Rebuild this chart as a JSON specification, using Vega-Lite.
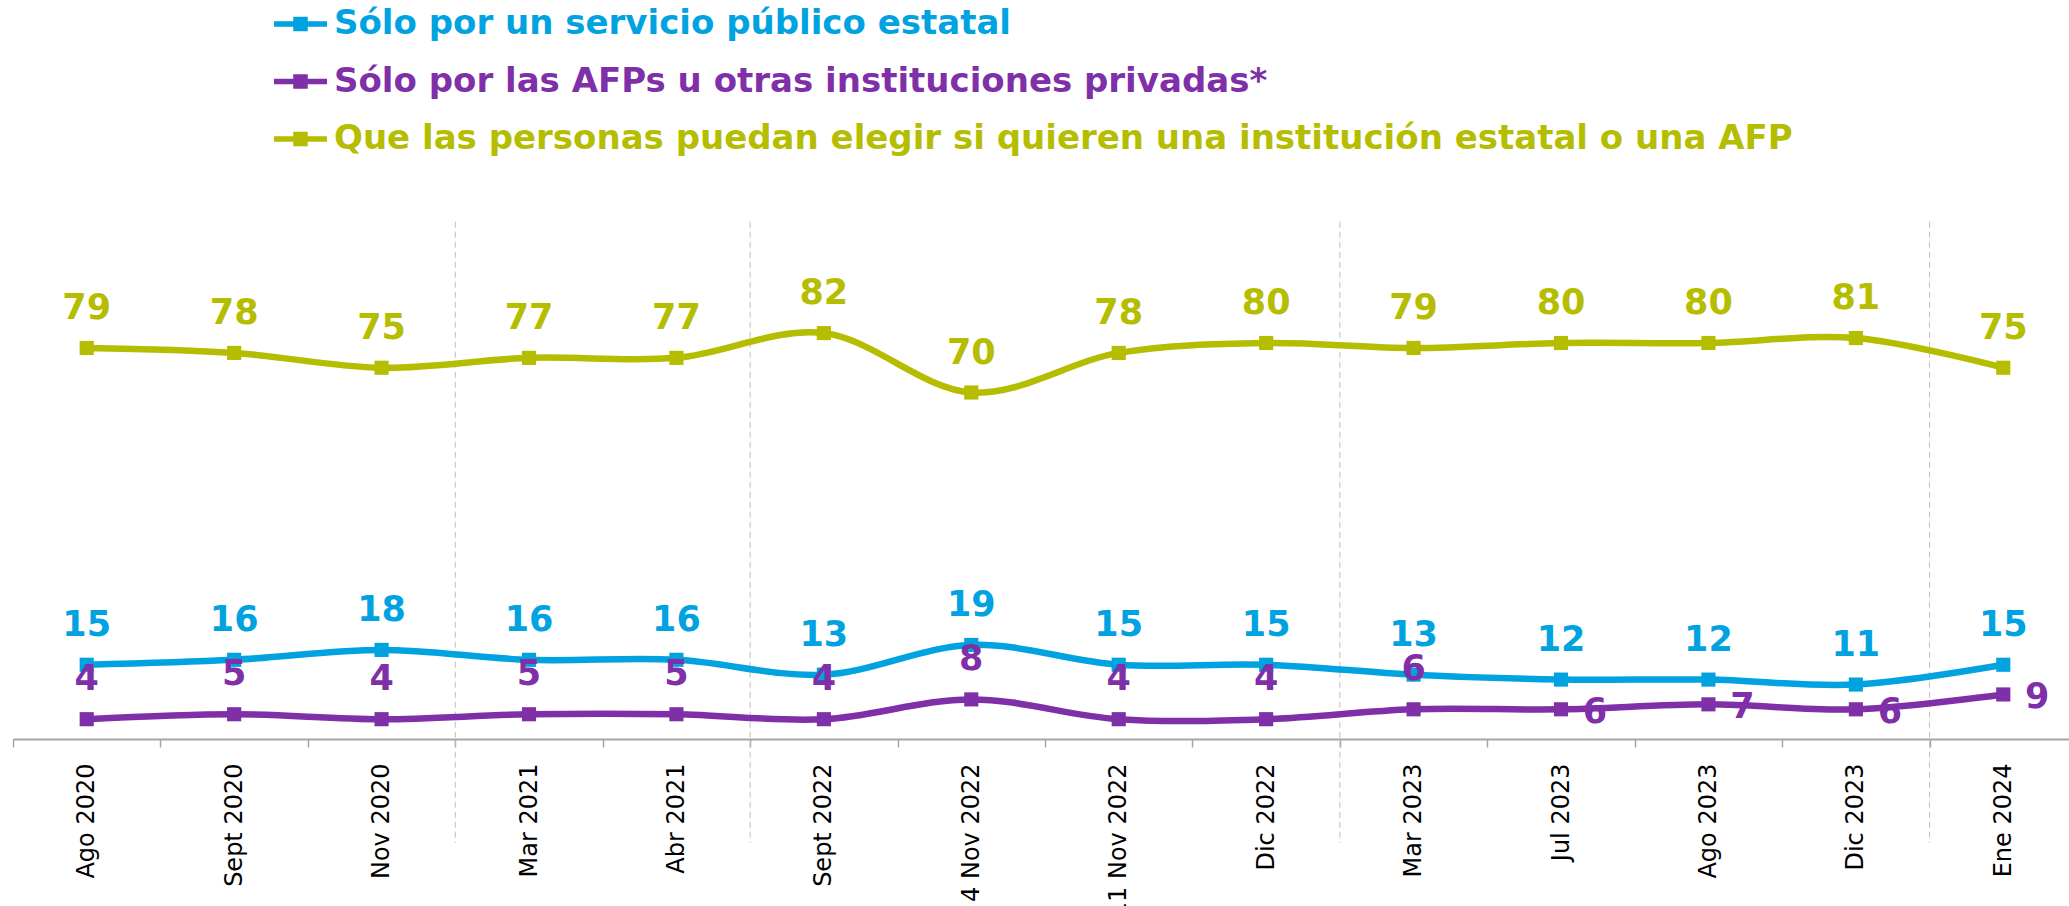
{
  "$schema": "https://vega.github.io/schema/vega-lite/v6.json",
  "autosize": {"type": "none"},
  "width": 2056,
  "height": 495,
  "padding": {"left": 13, "top": 244, "right": 0, "bottom": 167},
  "background": "white",
  "config": {"view": {"stroke": null}, "font": "DejaVu Sans"},
  "datasets": {
    "main": [
      {"periodo": "Ago 2020", "serie": "Sólo por un servicio público estatal", "valor": 15},
      {"periodo": "Sept 2020", "serie": "Sólo por un servicio público estatal", "valor": 16},
      {"periodo": "Nov 2020", "serie": "Sólo por un servicio público estatal", "valor": 18},
      {"periodo": "Mar 2021", "serie": "Sólo por un servicio público estatal", "valor": 16},
      {"periodo": "Abr 2021", "serie": "Sólo por un servicio público estatal", "valor": 16},
      {"periodo": "Sept 2022", "serie": "Sólo por un servicio público estatal", "valor": 13},
      {"periodo": "4 Nov 2022", "serie": "Sólo por un servicio público estatal", "valor": 19},
      {"periodo": "11 Nov 2022", "serie": "Sólo por un servicio público estatal", "valor": 15},
      {"periodo": "Dic 2022", "serie": "Sólo por un servicio público estatal", "valor": 15},
      {"periodo": "Mar 2023", "serie": "Sólo por un servicio público estatal", "valor": 13},
      {"periodo": "Jul 2023", "serie": "Sólo por un servicio público estatal", "valor": 12},
      {"periodo": "Ago 2023", "serie": "Sólo por un servicio público estatal", "valor": 12},
      {"periodo": "Dic 2023", "serie": "Sólo por un servicio público estatal", "valor": 11},
      {"periodo": "Ene 2024", "serie": "Sólo por un servicio público estatal", "valor": 15},
      {"periodo": "Ago 2020", "serie": "Sólo por las AFPs u otras instituciones privadas*", "valor": 4},
      {"periodo": "Sept 2020", "serie": "Sólo por las AFPs u otras instituciones privadas*", "valor": 5},
      {"periodo": "Nov 2020", "serie": "Sólo por las AFPs u otras instituciones privadas*", "valor": 4},
      {"periodo": "Mar 2021", "serie": "Sólo por las AFPs u otras instituciones privadas*", "valor": 5},
      {"periodo": "Abr 2021", "serie": "Sólo por las AFPs u otras instituciones privadas*", "valor": 5},
      {"periodo": "Sept 2022", "serie": "Sólo por las AFPs u otras instituciones privadas*", "valor": 4},
      {"periodo": "4 Nov 2022", "serie": "Sólo por las AFPs u otras instituciones privadas*", "valor": 8},
      {"periodo": "11 Nov 2022", "serie": "Sólo por las AFPs u otras instituciones privadas*", "valor": 4},
      {"periodo": "Dic 2022", "serie": "Sólo por las AFPs u otras instituciones privadas*", "valor": 4},
      {"periodo": "Mar 2023", "serie": "Sólo por las AFPs u otras instituciones privadas*", "valor": 6},
      {"periodo": "Jul 2023", "serie": "Sólo por las AFPs u otras instituciones privadas*", "valor": 6},
      {"periodo": "Ago 2023", "serie": "Sólo por las AFPs u otras instituciones privadas*", "valor": 7},
      {"periodo": "Dic 2023", "serie": "Sólo por las AFPs u otras instituciones privadas*", "valor": 6},
      {"periodo": "Ene 2024", "serie": "Sólo por las AFPs u otras instituciones privadas*", "valor": 9},
      {"periodo": "Ago 2020", "serie": "Que las personas puedan elegir si quieren una institución estatal o una AFP", "valor": 79},
      {"periodo": "Sept 2020", "serie": "Que las personas puedan elegir si quieren una institución estatal o una AFP", "valor": 78},
      {"periodo": "Nov 2020", "serie": "Que las personas puedan elegir si quieren una institución estatal o una AFP", "valor": 75},
      {"periodo": "Mar 2021", "serie": "Que las personas puedan elegir si quieren una institución estatal o una AFP", "valor": 77},
      {"periodo": "Abr 2021", "serie": "Que las personas puedan elegir si quieren una institución estatal o una AFP", "valor": 77},
      {"periodo": "Sept 2022", "serie": "Que las personas puedan elegir si quieren una institución estatal o una AFP", "valor": 82},
      {"periodo": "4 Nov 2022", "serie": "Que las personas puedan elegir si quieren una institución estatal o una AFP", "valor": 70},
      {"periodo": "11 Nov 2022", "serie": "Que las personas puedan elegir si quieren una institución estatal o una AFP", "valor": 78},
      {"periodo": "Dic 2022", "serie": "Que las personas puedan elegir si quieren una institución estatal o una AFP", "valor": 80},
      {"periodo": "Mar 2023", "serie": "Que las personas puedan elegir si quieren una institución estatal o una AFP", "valor": 79},
      {"periodo": "Jul 2023", "serie": "Que las personas puedan elegir si quieren una institución estatal o una AFP", "valor": 80},
      {"periodo": "Ago 2023", "serie": "Que las personas puedan elegir si quieren una institución estatal o una AFP", "valor": 80},
      {"periodo": "Dic 2023", "serie": "Que las personas puedan elegir si quieren una institución estatal o una AFP", "valor": 81},
      {"periodo": "Ene 2024", "serie": "Que las personas puedan elegir si quieren una institución estatal o una AFP", "valor": 75}
    ],
    "sep": [
      {"periodo": "Mar 2021"},
      {"periodo": "Sept 2022"},
      {"periodo": "Mar 2023"},
      {"periodo": "Ene 2024"}
    ]
  },
  "encoding": {
    "x": {
      "field": "periodo",
      "type": "nominal",
      "sort": ["Ago 2020", "Sept 2020", "Nov 2020", "Mar 2021", "Abr 2021", "Sept 2022", "4 Nov 2022", "11 Nov 2022", "Dic 2022", "Mar 2023", "Jul 2023", "Ago 2023", "Dic 2023", "Ene 2024"],
      "scale": {"type": "band", "range": [0, 2064], "paddingInner": 0, "paddingOuter": 0},
      "axis": {
        "title": null,
        "labelAngle": -90,
        "labelAlign": "right",
        "labelBaseline": "middle",
        "labelFont": "DejaVu Sans",
        "labelFontSize": 24,
        "labelColor": "#000000",
        "labelPadding": 16,
        "labelLimit": 400,
        "labelOverlap": false,
        "tickBand": "extent",
        "tickSize": 8,
        "tickWidth": 1.5,
        "tickColor": "#A6A6A6",
        "domainColor": "#A6A6A6",
        "domainWidth": 2,
        "grid": false
      }
    },
    "color": {
      "field": "serie",
      "type": "nominal",
      "scale": {
        "domain": ["Sólo por un servicio público estatal", "Sólo por las AFPs u otras instituciones privadas*", "Que las personas puedan elegir si quieren una institución estatal o una AFP"],
        "range": ["#00A3E0", "#7F30A8", "#B5BD00"]
      },
      "legend": {
        "orient": "none",
        "legendX": 258,
        "legendY": -249.5,
        "title": null,
        "direction": "vertical",
        "padding": 0,
        "rowPadding": 10.5,
        "labelFont": "DejaVu Sans",
        "labelFontSize": 34,
        "labelFontWeight": "bold",
        "labelLimit": 3000,
        "labelOffset": 4,
        "symbolType": "M-1,0H1M-0.17,-0.17H0.17V0.17H-0.17Z",
        "symbolSize": 2809,
        "symbolStrokeWidth": 5.5,
        "encode": {
          "labels": {"update": {"fill": {"scale": "color", "field": "value"}}},
          "symbols": {
            "update": {
              "fill": {"scale": "color", "field": "value"},
              "stroke": {"scale": "color", "field": "value"},
              "size": {"value": 2809},
              "shape": {"value": "M-1,0H1M-0.17,-0.17H0.17V0.17H-0.17Z"},
              "strokeWidth": {"value": 5.5},
              "opacity": {"value": 1}
            }
          }
        }
      }
    }
  },
  "layer": [
    {
      "data": {"name": "sep"},
      "mark": {"type": "rule", "strokeWidth": 1, "strokeDash": [6, 4]},
      "encoding": {
        "x": {
          "field": "periodo",
          "type": "nominal",
          "bandPosition": 0,
          "sort": ["Ago 2020", "Sept 2020", "Nov 2020", "Mar 2021", "Abr 2021", "Sept 2022", "4 Nov 2022", "11 Nov 2022", "Dic 2022", "Mar 2023", "Jul 2023", "Ago 2023", "Dic 2023", "Ene 2024"]
        },
        "y": {"datum": 104.5, "type": "quantitative", "scale": {"domain": [0, 100], "nice": false, "zero": false}, "axis": null},
        "y2": {"datum": -21},
        "color": {"value": "#BFBFBF"}
      }
    },
    {
      "data": {"name": "main"},
      "mark": {"type": "line", "interpolate": "cardinal", "strokeWidth": 6.5},
      "encoding": {
        "y": {"field": "valor", "type": "quantitative"}
      }
    },
    {
      "data": {"name": "main"},
      "mark": {"type": "square", "size": 200, "opacity": 1, "filled": true},
      "encoding": {
        "y": {"field": "valor", "type": "quantitative"}
      }
    },
    {
      "data": {"name": "main"},
      "transform": [
        {"filter": {"not": {"and": [
          {"field": "serie", "equal": "Sólo por las AFPs u otras instituciones privadas*"},
          {"field": "periodo", "oneOf": ["Jul 2023", "Ago 2023", "Dic 2023", "Ene 2024"]}
        ]}}}
      ],
      "mark": {"type": "text", "font": "DejaVu Sans", "fontSize": 35, "fontWeight": "bold", "dy": -40, "align": "center", "baseline": "middle"},
      "encoding": {
        "y": {"field": "valor", "type": "quantitative"},
        "text": {"field": "valor", "type": "quantitative"}
      }
    },
    {
      "data": {"name": "main"},
      "transform": [
        {"filter": {"and": [
          {"field": "serie", "equal": "Sólo por las AFPs u otras instituciones privadas*"},
          {"field": "periodo", "oneOf": ["Jul 2023", "Ago 2023", "Dic 2023", "Ene 2024"]}
        ]}}
      ],
      "mark": {"type": "text", "font": "DejaVu Sans", "fontSize": 35, "fontWeight": "bold", "dx": 34, "dy": 3, "align": "center", "baseline": "middle"},
      "encoding": {
        "y": {"field": "valor", "type": "quantitative"},
        "text": {"field": "valor", "type": "quantitative"}
      }
    }
  ]
}
